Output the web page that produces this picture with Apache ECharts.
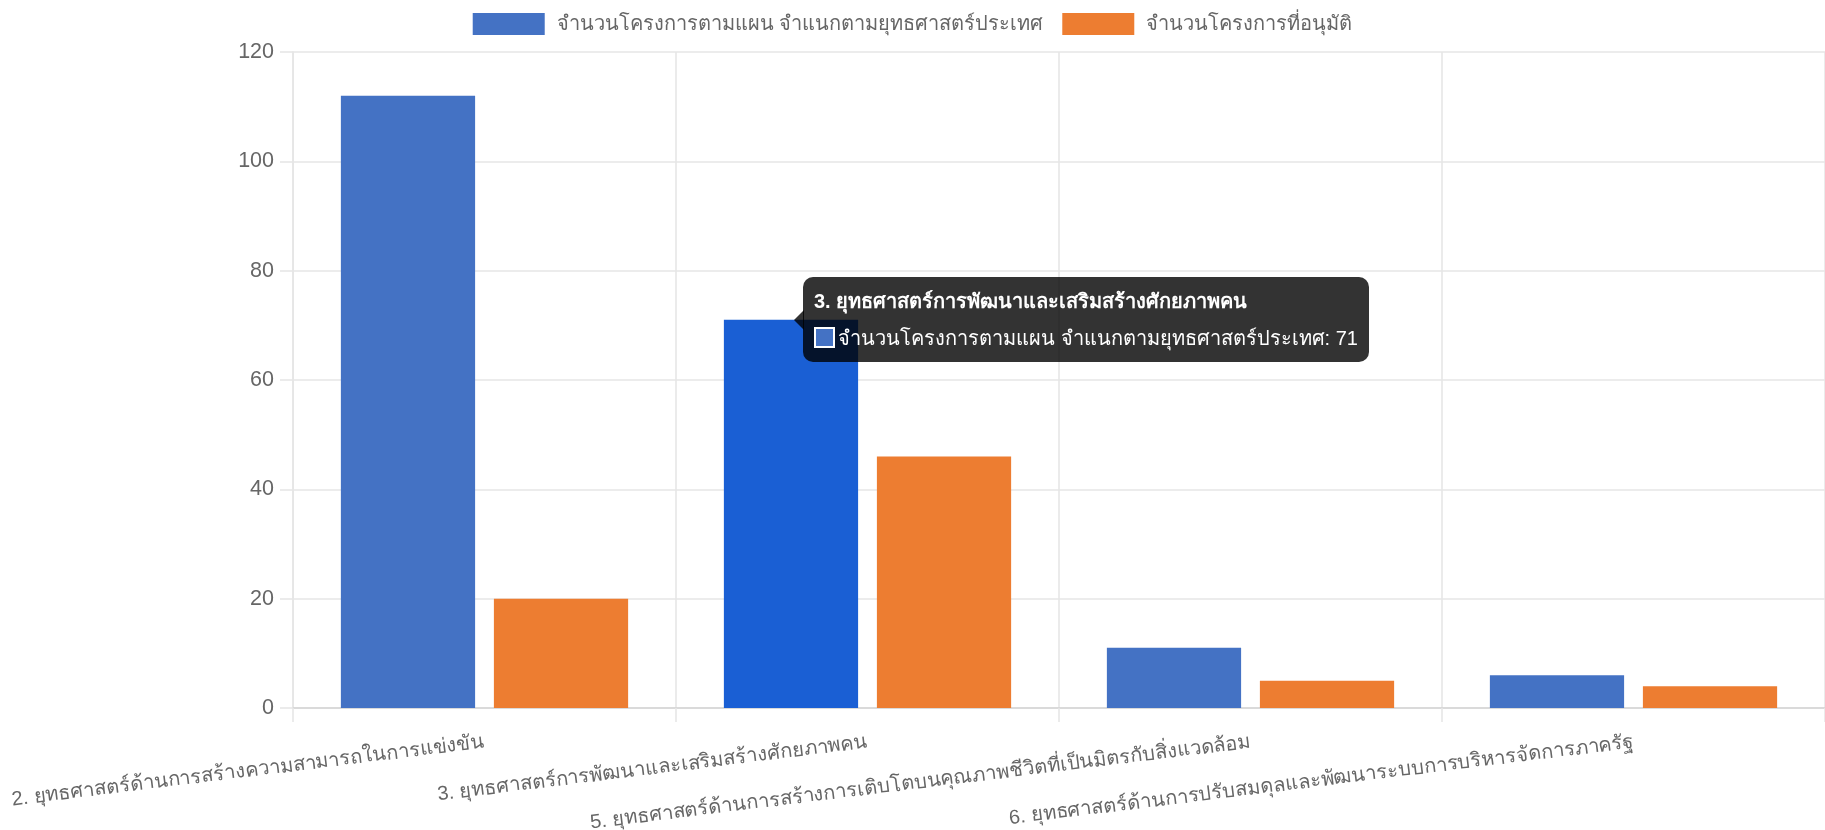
<!DOCTYPE html>
<html>
<head>
<meta charset="utf-8">
<script src="https://cdn.jsdelivr.net/npm/echarts@6/dist/echarts.min.js"></script>
<style>
html,body{margin:0;padding:0;background:#fff;}
#chart{width:1825px;height:830px;}
</style>
</head>
<body>
<div id="chart"></div>
<script>
const categories = [
  '2. ยุทธศาสตร์ด้านการสร้างความสามารถในการแข่งขัน',
  '3. ยุทธศาสตร์การพัฒนาและเสริมสร้างศักยภาพคน',
  '5. ยุทธศาสตร์ด้านการสร้างการเติบโตบนคุณภาพชีวิตที่เป็นมิตรกับสิ่งแวดล้อม',
  '6. ยุทธศาสตร์ด้านการปรับสมดุลและพัฒนาระบบการบริหารจัดการภาครัฐ'
];
const seriesNames = ['จำนวนโครงการตามแผน จำแนกตามยุทธศาสตร์ประเทศ', 'จำนวนโครงการที่อนุมัติ'];
const plannedValues = [112, 71, 11, 6];
const approvedValues = [20, 46, 5, 4];
const yTicks = { min: 0, max: 120, interval: 20 };
const hoveredIndex = 1;

const FONT = "'Liberation Sans', 'Noto Sans', Arial, sans-serif";
const GRID = '#e6e6e6';
const THAI_SIZE = 20;
const chart = echarts.init(document.getElementById('chart'), null, { renderer: 'canvas' });

const option = {
  animation: false,
  textStyle: { fontFamily: FONT },
  legend: {
    top: 8,
    left: 'center',
    itemWidth: 72,
    itemHeight: 22,
    itemGap: 19,
    icon: 'rect',
    textStyle: { fontSize: THAI_SIZE, color: '#666', fontFamily: FONT, padding: [0, 0, 0, 7] },
    data: seriesNames
  },
  grid: { left: 293, right: 0, top: 52, bottom: 122, containLabel: false, outerBoundsMode: 'none' },
  tooltip: {
    trigger: 'item',
    triggerOn: 'none',
    alwaysShowContent: true,
    backgroundColor: 'rgba(0,0,0,0.8)',
    borderWidth: 0,
    padding: [9, 11, 9, 11],
    extraCssText: 'border-radius:10px;box-shadow:none;',
    textStyle: { color: '#fff', fontSize: THAI_SIZE, fontFamily: FONT },
    formatter: function (p) {
      return '<div style="position:relative;line-height:30px;">' +
        '<div style="position:absolute;left:-20px;top:50%;margin-top:-10px;width:0;height:0;border-top:10px solid transparent;border-bottom:10px solid transparent;border-right:10px solid rgba(0,0,0,0.8);"></div>' +
        '<div style="font-weight:bold;">' + p.name + '</div>' +
        '<div style="margin-top:7px;white-space:nowrap;"><span style="display:inline-block;width:17px;height:17px;background:#4472c4;border:2px solid #fff;vertical-align:-3px;margin-right:3px;"></span>' +
        p.seriesName + ': ' + p.value + '</div></div>';
    },
    position: function (point, params, dom, rect, size) {
      const h = size.contentSize[1];
      if (rect) {
        return [rect.x + rect.width / 2 + 12, rect.y - h / 2];
      }
      return [point[0] + 12, point[1] - h / 2];
    }
  },
  xAxis: {
    type: 'category',
    data: categories,
    boundaryGap: true,
    axisLine: { show: true, lineStyle: { color: '#d4d4d4', width: 1.6 } },
    axisTick: { show: true, length: 14, alignWithLabel: false, lineStyle: { color: GRID, width: 1.6 } },
    splitLine: { show: true, interval: 0, lineStyle: { color: GRID, width: 1.6 } },
    axisLabel: { interval: 0, rotate: 7, margin: 34, fontSize: THAI_SIZE, color: '#666', fontFamily: FONT }
  },
  yAxis: {
    type: 'value',
    min: yTicks.min,
    max: yTicks.max,
    interval: yTicks.interval,
    axisLine: { show: true, lineStyle: { color: GRID, width: 1.6 } },
    axisTick: { show: true, length: 13, lineStyle: { color: GRID, width: 1.6 } },
    splitLine: { show: true, lineStyle: { color: GRID, width: 1.6 } },
    axisLabel: { margin: 19, fontSize: 21.5, color: '#666', fontFamily: FONT }
  },
  series: [
    {
      name: seriesNames[0],
      type: 'bar',
      data: plannedValues,
      barGap: '14%',
      barCategoryGap: '25%',
      itemStyle: { color: '#4472c4' },
      emphasis: { focus: 'none', itemStyle: { color: '#1a5fd4' } }
    },
    {
      name: seriesNames[1],
      type: 'bar',
      data: approvedValues,
      barGap: '14%',
      barCategoryGap: '25%',
      itemStyle: { color: '#ed7d31' },
      emphasis: { disabled: true }
    }
  ]
};
chart.setOption(option);
chart.dispatchAction({ type: 'highlight', seriesIndex: 0, dataIndex: hoveredIndex });
chart.dispatchAction({ type: 'showTip', seriesIndex: 0, dataIndex: hoveredIndex });
</script>
</body>
</html>
